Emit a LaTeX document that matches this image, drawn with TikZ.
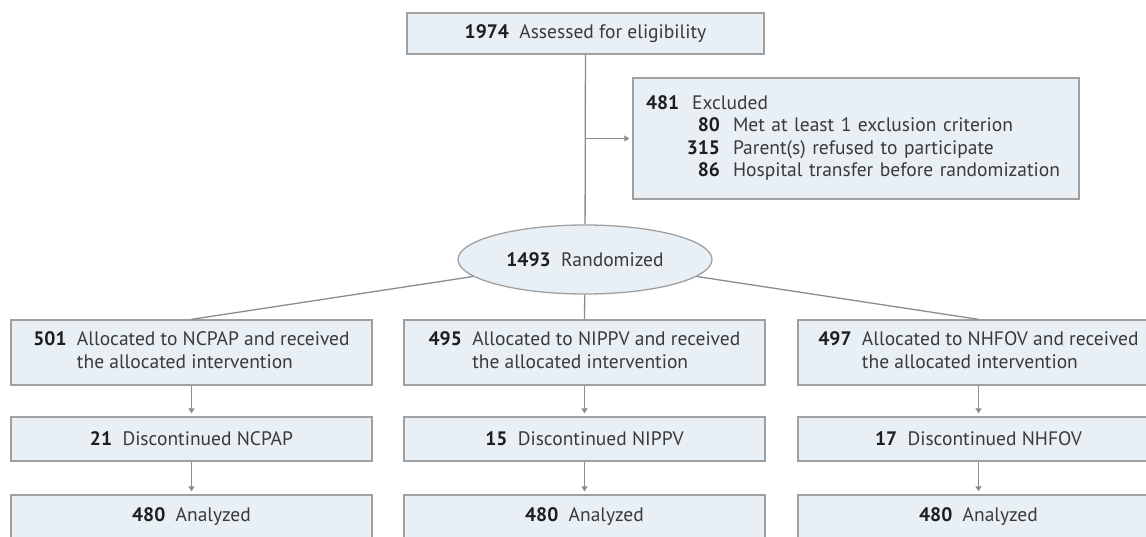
\documentclass[tikz,border=0pt]{standalone}
\usepackage{fontspec}
\setmainfont{PT Sans}
\usetikzlibrary{shapes.geometric,arrows.meta}
\definecolor{boxfill}{HTML}{E8F0F5}
\definecolor{boxline}{HTML}{A0A0A0}
\definecolor{linec}{HTML}{8C8C8C}
\definecolor{txt}{HTML}{3A3A3A}
\definecolor{numc}{HTML}{1E1E1E}
\newcommand{\nm}[1]{\textbf{\color{numc}#1}}
\begin{document}
\begin{tikzpicture}[x=1pt,y=-1pt,
  box/.style={draw=boxline, fill=boxfill, line width=1.3pt, inner sep=0pt,
    text=txt, font=\fontsize{19.5}{22.5}\selectfont, align=center},
  colbox/.style={box, minimum width=361pt},
  conn/.style={draw=linec, line width=1.3pt},
  arr/.style={conn, -{Triangle[width=6pt,length=5pt]}, shorten >=3pt}]
\useasboundingbox (0,0) rectangle (1146,536);
\clip (0,0) rectangle (1146,536);

\node[box, minimum width=357pt, minimum height=41pt] (top) at (585.5,33.5)
  {\nm{1974}\ \ Assessed for eligibility};

\node[box, minimum height=121pt, text width=420pt, inner xsep=13pt, align=left] (excl) at (856,138.5)
  {\begin{tabular}{@{}r@{\ \ }l@{}}
   \multicolumn{2}{@{}l@{}}{\nm{481}\ \ Excluded}\\
   \makebox[74pt][r]{\nm{80}} & Met at least 1 exclusion criterion\\
   \makebox[74pt][r]{\nm{315}} & Parent(s) refused to participate\\
   \makebox[74pt][r]{\nm{86}} & Hospital transfer before randomization
   \end{tabular}};

\node[box, ellipse, minimum width=254pt, minimum height=69pt] (rand) at (585,259.5)
  {\nm{1493}\ \ Randomized};

\node[colbox, minimum height=65pt] (a1) at (191.5,352.5)
  {\begin{tabular}{@{}r@{\ \ }l@{}}\nm{501} & Allocated to NCPAP and received\\ & the allocated intervention\end{tabular}};
\node[colbox, minimum height=65pt] (b1) at (584.5,352.5)
  {\begin{tabular}{@{}r@{\ \ }l@{}}\nm{495} & Allocated to NIPPV and received\\ & the allocated intervention\end{tabular}};
\node[colbox, minimum height=65pt] (c1) at (978.5,352.5)
  {\begin{tabular}{@{}r@{\ \ }l@{}}\nm{497} & Allocated to NHFOV and received\\ & the allocated intervention\end{tabular}};

\node[colbox, minimum height=44pt] (a2) at (191.5,439) {\nm{21}\ \ Discontinued NCPAP};
\node[colbox, minimum height=44pt] (b2) at (584.5,439) {\nm{15}\ \ Discontinued NIPPV};
\node[colbox, minimum height=44pt] (c2) at (978.5,439) {\nm{17}\ \ Discontinued NHFOV};

\node[colbox, minimum height=44pt] (a3) at (191.5,517) {\nm{480}\ \ Analyzed};
\node[colbox, minimum height=44pt] (b3) at (584.5,517) {\nm{480}\ \ Analyzed};
\node[colbox, minimum height=44pt] (c3) at (978.5,517) {\nm{480}\ \ Analyzed};

\draw[conn] (top) -- (rand);
\draw[arr] (top.south |- excl.west) -- (excl.west);
\draw[conn] (rand) -- (a1.north);
\draw[conn] (rand) -- (b1.north);
\draw[conn] (rand) -- (c1.north);
\draw[arr] (a1) -- (a2);
\draw[arr] (b1) -- (b2);
\draw[arr] (c1) -- (c2);
\draw[arr] (a2) -- (a3);
\draw[arr] (b2) -- (b3);
\draw[arr] (c2) -- (c3);
\end{tikzpicture}
\end{document}
